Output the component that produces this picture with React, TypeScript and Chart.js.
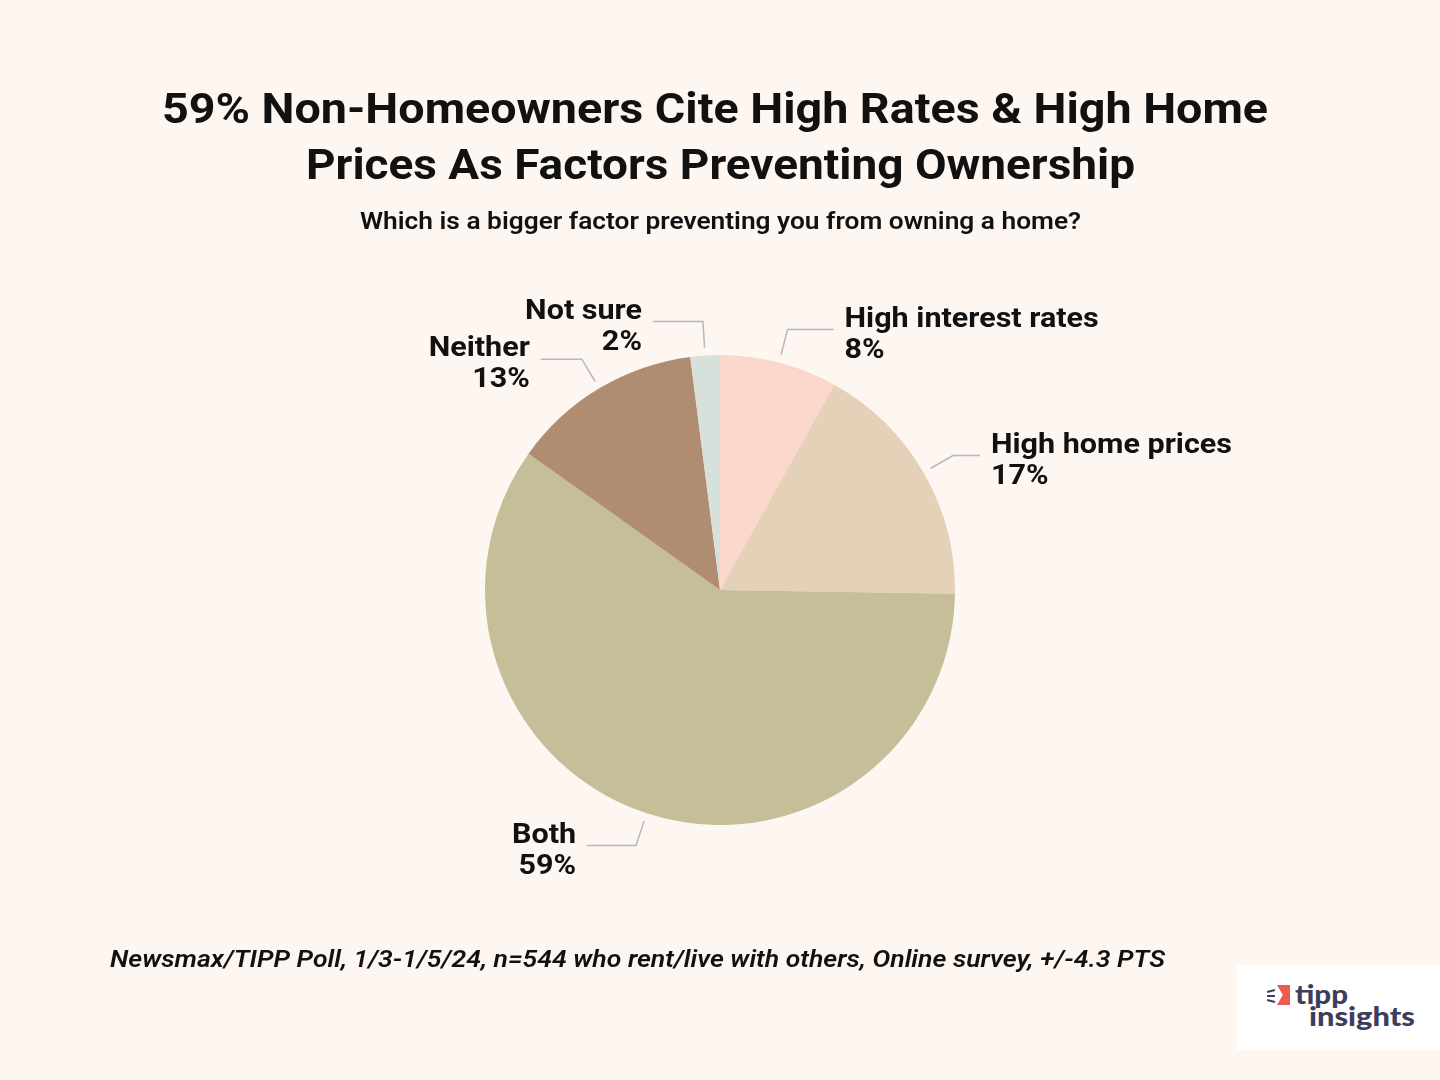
import React, { useEffect, useLayoutEffect, useRef } from "react";
import { Chart, registerables } from "chart.js";

Chart.register(...registerables);

// ---- data ----
const CATEGORIES = ["High interest rates", "High home prices", "Both", "Neither", "Not sure"];
const VALUES = [8, 17, 59, 13, 2];
const VALUE_LABELS = ["8%", "17%", "59%", "13%", "2%"];
const COLORS = ["#FCD7CC", "#E5D0B8", "#C5BE99", "#B08D70", "#D7E1DB"];

const TITLE_LINES = [
  "59% Non-Homeowners Cite High Rates & High Home",
  "Prices As Factors Preventing Ownership",
];
const SUBTITLE = "Which is a bigger factor preventing you from owning a home?";
const FOOTNOTE = "Newsmax/TIPP Poll, 1/3-1/5/24, n=544 who rent/live with others, Online survey, +/-4.3 PTS";

const BG = "#FEF6F1";

type FitProps = {
  text: string;
  x: number;
  baseline: number;
  width: number;
  size: number;
  weight?: number | string;
  italic?: boolean;
  color?: string;
  family?: string;
  anchor?: "left" | "center";
  baseK?: number;
};

function FitText({ text, x, baseline, width, size, weight = 700, italic, color = "#111", family = "Roboto", anchor = "left", baseK = 0.842 }: FitProps) {
  const ref = useRef<HTMLSpanElement>(null);
  useLayoutEffect(() => {
    const el = ref.current;
    if (!el) return;
    const fit = () => {
      el.style.transform = "none";
      const w = el.getBoundingClientRect().width;
      if (w > 0) el.style.transform = `scaleX(${width / w})`;
    };
    fit();
    (document as any).fonts?.ready?.then(fit);
  }, [text, width, size]);
  const left = anchor === "center" ? x - width / 2 : x;
  return (
    <span
      ref={ref}
      style={{
        position: "absolute",
        left,
        top: baseline - baseK * size,
        fontFamily: family,
        fontSize: size,
        lineHeight: `${size}px`,
        fontWeight: weight as any,
        fontStyle: italic ? "italic" : "normal",
        color,
        whiteSpace: "nowrap",
        transformOrigin: "0 0",
        display: "inline-block",
      }}
    >
      {text}
    </span>
  );
}

const leaderPlugin = {
  id: "leaders",
  afterDatasetsDraw(chart: any, _args: any, opts: any) {
    const ctx = chart.ctx as CanvasRenderingContext2D;
    const meta = chart.getDatasetMeta(0);
    meta.data.forEach((arc: any, i: number) => {
      const { x, y, startAngle, endAngle, outerRadius } = arc.getProps(
        ["x", "y", "startAngle", "endAngle", "outerRadius"],
        true
      );
      const mid = (startAngle + endAngle) / 2;
      const c = Math.cos(mid);
      const s = Math.sin(mid);
      const r1 = outerRadius + 8;
      const r2 = outerRadius + 34;
      const x1 = x + r1 * c;
      const y1 = y + r1 * s;
      const x2 = x + r2 * c;
      const y2 = y + r2 * s;
      const dir = c >= 0 ? 1 : -1;
      const x3 = x2 + dir * opts.lengths[i];
      ctx.save();
      ctx.strokeStyle = "#B4B8C4";
      ctx.lineWidth = 1.5;
      ctx.beginPath();
      ctx.moveTo(x1, y1);
      ctx.lineTo(x2, y2);
      ctx.lineTo(x3, y2);
      ctx.stroke();
      ctx.fillStyle = "#111111";
      ctx.font = "bold 28px Roboto";
      ctx.textAlign = dir > 0 ? "left" : "right";
      ctx.textBaseline = "alphabetic";
      const tx = x3 + dir * 11;
      const lines = [CATEGORIES[i], VALUE_LABELS[i]];
      const offs = [-3, 28];
      lines.forEach((t, k) => {
        ctx.save();
        ctx.translate(tx, y2 + offs[k]);
        ctx.scale(1.09, 1);
        ctx.fillText(t, 0, 0);
        ctx.restore();
      });
      ctx.restore();
    });
  },
};

export default function App() {
  const canvasRef = useRef<HTMLCanvasElement>(null);

  useEffect(() => {
    document.body.style.background = BG;
    const cv = canvasRef.current;
    if (!cv) return;
    const chart = new Chart(cv, {
      type: "pie",
      data: {
        labels: CATEGORIES,
        datasets: [
          {
            data: VALUES,
            backgroundColor: COLORS,
            borderWidth: 0,
          },
        ],
      },
      options: {
        animation: false,
        responsive: true,
        maintainAspectRatio: false,
        layout: { padding: { left: 485, right: 485, top: 355, bottom: 255 } },
        plugins: {
          legend: { display: false },
          tooltip: { enabled: false },
          leaders: { lengths: [46, 27, 49, 41, 50] },
        } as any,
        events: [],
      },
      plugins: [leaderPlugin],
    });
    return () => chart.destroy();
  }, []);

  return (
    <div style={{ position: "absolute", left: 0, top: 0, width: 1440, height: 1080, background: BG, overflow: "hidden" }}>
      <div style={{ position: "absolute", left: 0, top: 0, width: 1440, height: 1080 }}>
        <canvas ref={canvasRef} />
      </div>
      <FitText text={TITLE_LINES[0]} x={715} baseline={123} width={1106} size={42} anchor="center" weight={700} />
      <FitText text={TITLE_LINES[1]} x={720.5} baseline={179} width={829} size={42} anchor="center" weight={700} />
      <FitText text={SUBTITLE} x={720.5} baseline={229} width={721} size={24} anchor="center" weight={600} />
      <FitText text={FOOTNOTE} x={110} baseline={967} width={1055} size={23} italic weight={600} />
      <div style={{ position: "absolute", left: 1237, top: 965, width: 203, height: 85, background: "#FFFFFF" }}>
        <div style={{ position: "absolute", left: 40, top: 20, width: 13, height: 20, background: "#EE5A4C", clipPath: "polygon(0 0, 100% 0, 100% 100%, 0 100%, 45% 50%)" }} />
        <div style={{ position: "absolute", left: 30, top: 25, width: 8, height: 2, background: "#3B3F5C", transform: "rotate(-15deg)" }} />
        <div style={{ position: "absolute", left: 30, top: 30, width: 8, height: 2, background: "#3B3F5C" }} />
        <div style={{ position: "absolute", left: 30, top: 35, width: 8, height: 2, background: "#3B3F5C", transform: "rotate(15deg)" }} />
      </div>
      <FitText text="tipp" x={1295} baseline={1004} width={53} size={26} color="#3B3F5C" family="Lato" weight={900} baseK={0.887} />
      <FitText text="insights" x={1309} baseline={1026} width={106} size={26} color="#3B3F5C" family="Lato" weight={900} baseK={0.887} />
    </div>
  );
}
